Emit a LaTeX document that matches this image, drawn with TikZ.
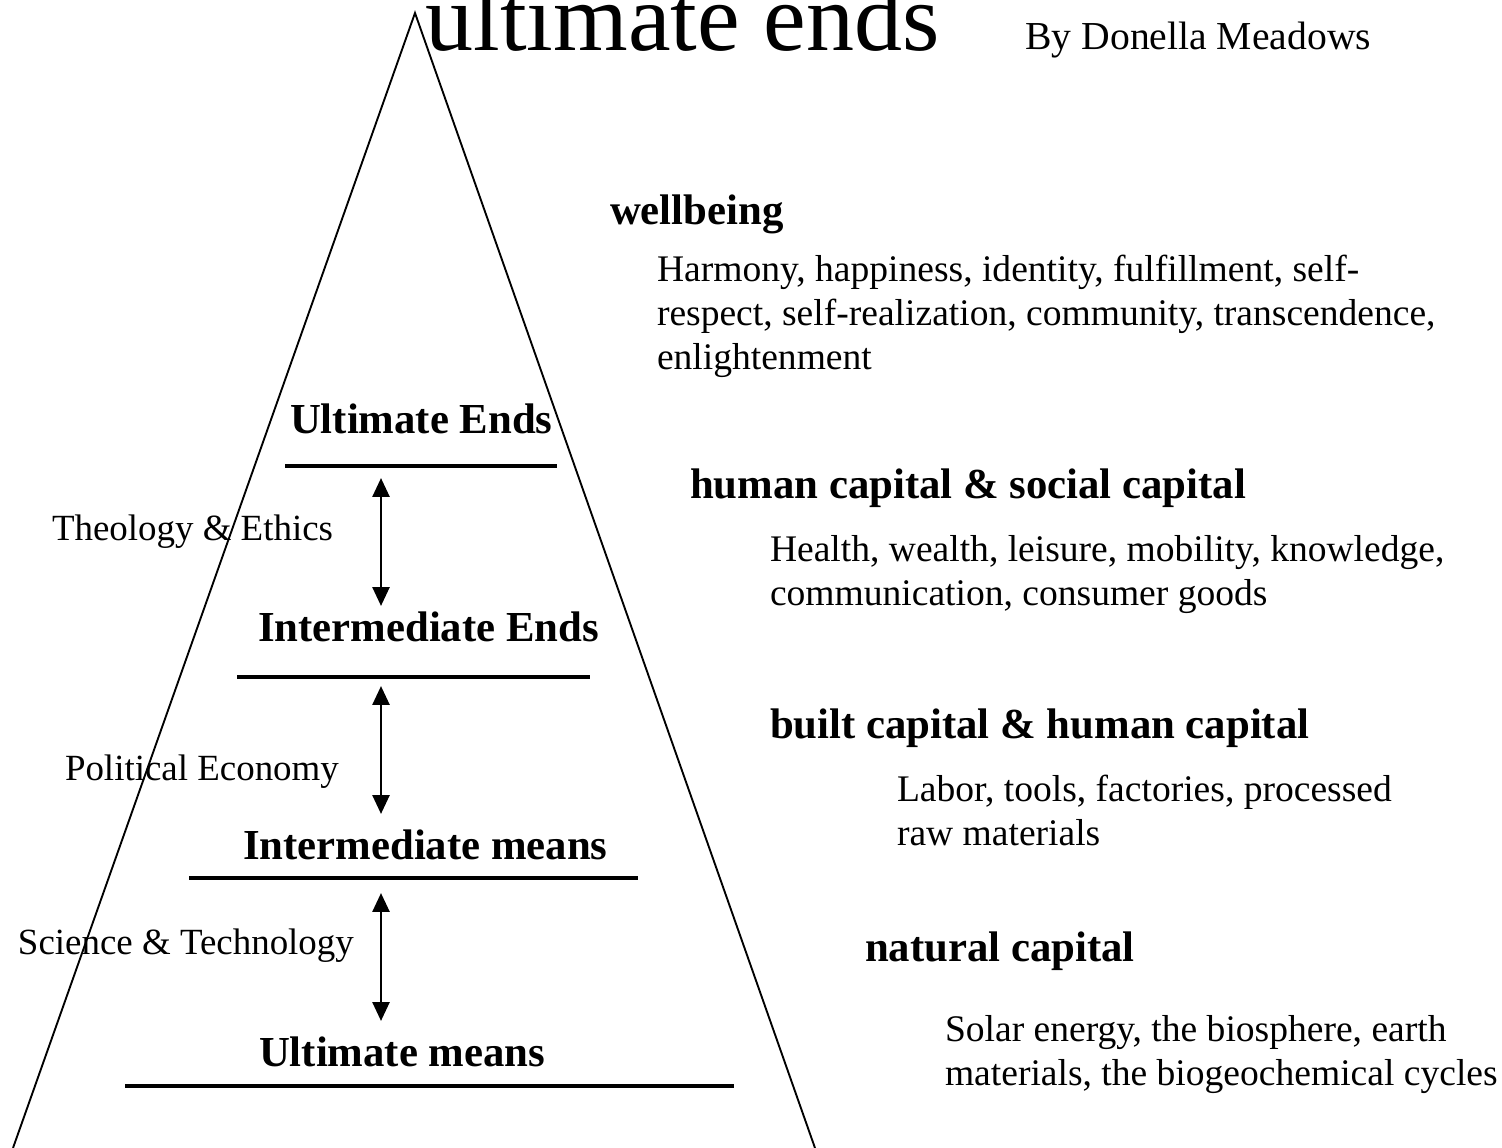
\documentclass[tikz,border=0pt]{standalone}
\usepackage{fontspec}
\setmainfont{Liberation Serif}
\usetikzlibrary{arrows.meta}
\begin{document}
\begin{tikzpicture}[x=0.47936pt,y=-0.47936pt,
  body/.style={anchor=base west, inner sep=0pt, outer sep=0pt, font=\fontsize{18}{21}\selectfont},
  disc/.style={anchor=base west, inner sep=0pt, outer sep=0pt, font=\fontsize{17.7}{21}\selectfont},
  head/.style={anchor=base west, inner sep=0pt, outer sep=0pt, font=\fontsize{20.5}{24}\selectfont\bfseries},
  lvl/.style={anchor=base west, inner sep=0pt, outer sep=0pt, font=\fontsize{20.5}{24}\selectfont\bfseries},
  rule/.style={line width=1.5pt},
  twoway/.style={line width=1.4pt, {Triangle[width=8pt,length=9pt]}-{Triangle[width=8pt,length=9pt]}},
  side/.style={line width=0.9pt}]
\useasboundingbox (0,0) rectangle (1502,1148);
\clip (0,0) rectangle (1502,1148);
% title
\node[anchor=base west, inner sep=0pt, font=\fontsize{46}{50}\selectfont] (title) at (425,51) {ultimate ends};
\node[anchor=base west, inner sep=0pt, font=\fontsize{19}{22}\selectfont] (author) at (1025,50) {By Donella Meadows};
% triangle
\coordinate (apex) at (415,13);
\coordinate (bl) at (13,1148);
\coordinate (br) at (815,1148);
\draw[side] (bl) -- (apex) -- (br);
% level rules
\coordinate (r1a) at (285,466); \coordinate (r1b) at (557,466);
\coordinate (r2a) at (237,677); \coordinate (r2b) at (590,677);
\coordinate (r3a) at (189,878); \coordinate (r3b) at (638,878);
\coordinate (r4a) at (125,1086); \coordinate (r4b) at (734,1086);
\draw[rule] (r1a) -- (r1b);
\draw[rule] (r2a) -- (r2b);
\draw[rule] (r3a) -- (r3b);
\draw[rule] (r4a) -- (r4b);
% level labels
\node[lvl] (ue) at (290,433) {Ultimate Ends};
\node[lvl] (ie) at (258,641) {Intermediate Ends};
\node[lvl] (im) at (243,859) {Intermediate means};
\node[lvl] (um) at (259,1066) {Ultimate means};
% arrows
\coordinate (a1s) at (381,478); \coordinate (a1e) at (381,606);
\coordinate (a2s) at (381,686); \coordinate (a2e) at (381,814);
\coordinate (a3s) at (381,893); \coordinate (a3e) at (381,1021);
\draw[twoway] (a1s) -- (a1e);
\draw[twoway] (a2s) -- (a2e);
\draw[twoway] (a3s) -- (a3e);
% discipline labels
\node[disc] (te) at (52,540) {Theology \& Ethics};
\node[disc] (pe) at (65,780) {Political Economy};
\node[disc] (st) at (18,954) {Science \& Technology};
% right column
\node[head] (h1) at (610,225) {wellbeing};
\node[body] (h1a) at (657,282) {Harmony, happiness, identity, fulfillment, self-};
\node[body] (h1b) at (657,326) {respect, self-realization, community, transcendence,};
\node[body] (h1c) at (657,370) {enlightenment};
\node[head] (h2) at (690,498) {human capital \& social capital};
\node[body] (h2a) at (770,561) {Health, wealth, leisure, mobility, knowledge,};
\node[body] (h2b) at (770,605) {communication, consumer goods};
\node[head] (h3) at (770,738) {built capital \& human capital};
\node[body] (h3a) at (897,801) {Labor, tools, factories, processed};
\node[body] (h3b) at (897,845) {raw materials};
\node[head] (h4) at (865,961) {natural capital};
\node[body] (h4a) at (945,1041) {Solar energy, the biosphere, earth};
\node[body] (h4b) at (945,1085) {materials, the biogeochemical cycles};
\end{tikzpicture}
\end{document}
